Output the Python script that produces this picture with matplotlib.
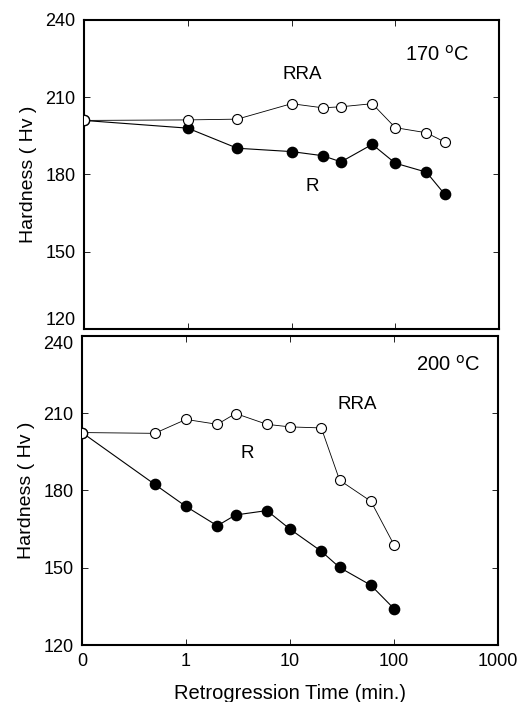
import numpy as np
import matplotlib.pyplot as plt

plt.rcParams['font.family'] = ['Liberation Sans', 'DejaVu Sans']

# 170 C data
t_170 = np.array([0, 1, 3, 10, 20, 30, 60, 100, 200, 300])
rra_170 = np.array([201.0, 201.2, 201.5, 207.5, 205.9, 206.3, 207.5, 198.2, 196.2, 192.6])
r_170 = np.array([201.0, 198.0, 190.2, 188.9, 187.3, 184.9, 191.7, 184.4, 180.9, 172.3])

# 200 C data
t_200_rra = np.array([0, 0.5, 1, 2, 3, 6, 10, 20, 30, 60, 100])
rra_200 = np.array([202.5, 202.2, 207.6, 205.7, 209.9, 205.7, 204.7, 204.3, 184.0, 175.8, 158.9])
t_200_r = np.array([0, 0.5, 1, 2, 3, 6, 10, 20, 30, 60, 100])
r_200 = np.array([202.5, 182.4, 173.8, 166.3, 170.5, 172.2, 165.0, 156.4, 150.1, 143.2, 134.1])

xticks = [0.1, 1, 10, 100, 1000]
xticklabels = ["0", "1", "10", "100", "1000"]
yticks = [120, 150, 180, 210, 240]


def pos(t):
    # time 0 is drawn at the left edge of the log axis
    t = np.asarray(t, dtype=float)
    return np.where(t == 0, 0.1, t)


fig = plt.figure(figsize=(5.23, 7.02), dpi=100)
W, H = 523.0, 702.0
ax1 = fig.add_axes([84 / W, 1 - 329 / H, 415 / W, 309 / H])
ax2 = fig.add_axes([82 / W, 1 - 645 / H, 416 / W, 309 / H])


def draw(ax, tr, r, tra, rra):
    ax.plot(pos(tr), r, color="black", lw=0.8, marker="o", ms=7.4,
            mfc="black", mec="black", zorder=2)
    ax.plot(pos(tra), rra, color="black", lw=0.6, marker="o", ms=7.2,
            mfc="white", mec="black", mew=0.8, zorder=3)
    ax.set_xscale("log")
    ax.set_xlim(0.1, 1000)
    ax.set_ylim(120, 240)
    ax.set_yticks(yticks)
    ax.set_xticks(xticks)
    ax.minorticks_off()
    ax.tick_params(direction="in", top=True, right=True, length=4, width=0.6,
                   labelsize=13, pad=6)
    ax.set_ylabel("Hardness ( Hv )", fontsize=14, labelpad=6)
    for s in ax.spines.values():
        s.set_linewidth(1.5)


draw(ax1, t_170, r_170, t_170, rra_170)
ax1.set_xticklabels([])
ax1.get_yticklabels()[0].set_va("bottom")
ax1.text(254, 226.5, "170 $^{\\rm o}$C", fontsize=14.5, ha="center", va="center")
ax1.text(12.8, 218.8, "RRA", fontsize=13.5, ha="center", va="center")
ax1.text(16, 175.4, "R", fontsize=13.5, ha="center", va="center")

draw(ax2, t_200_r, r_200, t_200_rra, rra_200)
ax2.set_xticklabels(xticklabels)
ax2.get_yticklabels()[-1].set_va("top")
ax2.set_xlabel("Retrogression Time (min.)", fontsize=14.5, labelpad=10)
ax2.text(328, 229, "200 $^{\\rm o}$C", fontsize=14.5, ha="center", va="center")
ax2.text(44.8, 213.3, "RRA", fontsize=13.5, ha="center", va="center")
ax2.text(3.9, 194.2, "R", fontsize=13.5, ha="center", va="center")

plt.savefig("out.png", dpi=100)
